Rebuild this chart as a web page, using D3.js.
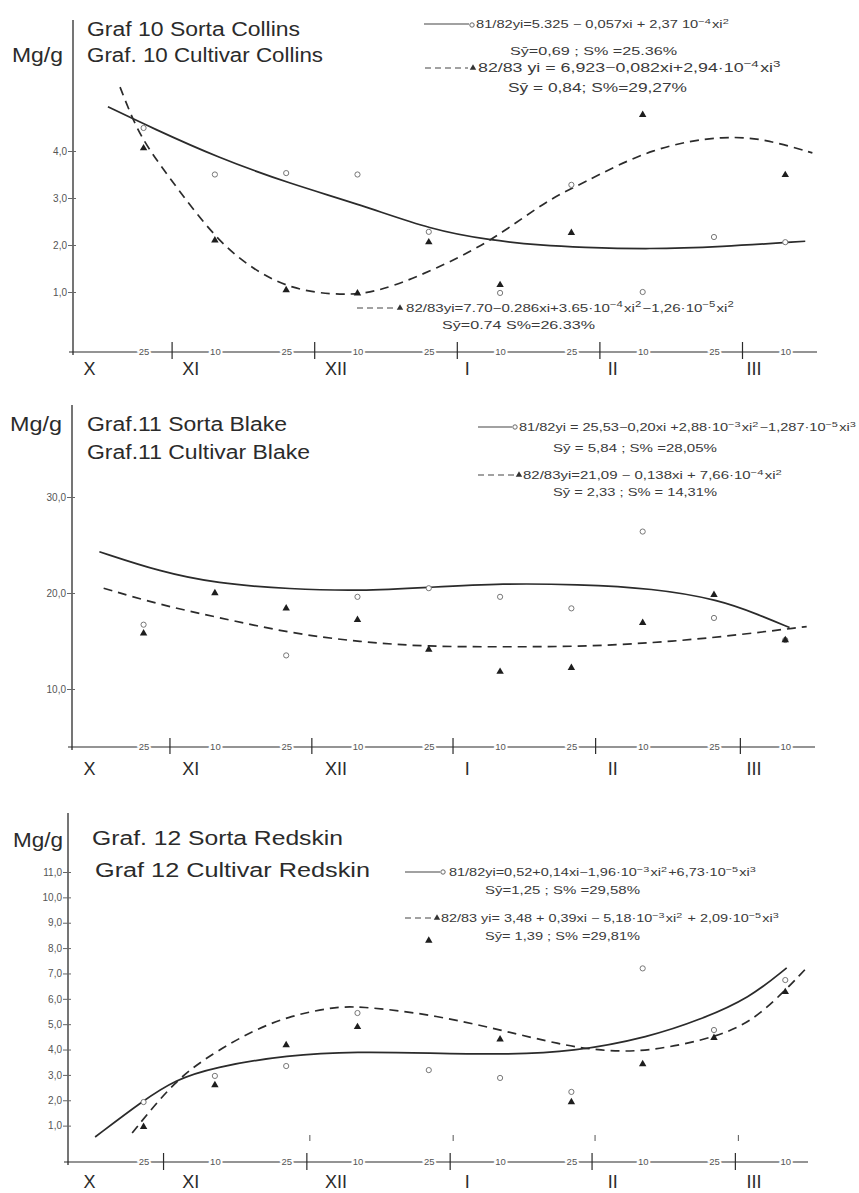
<!DOCTYPE html>
<html><head><meta charset="utf-8">
<script src="https://cdn.jsdelivr.net/npm/d3@7"></script>
<style>body{margin:0;background:#fff} svg{display:block}</style>
</head><body><svg id="c" width="859" height="1193"></svg>
<script>
// ---------- DATA ----------
// x positions are in "month units": 0 = 1 X, 1 = 1 XI, ... (25th = +0.8, 10th = +0.3)
const sampleDates = [0.8, 1.3, 1.8, 2.3, 2.8, 3.3, 3.8, 4.3, 4.8, 5.3];
const dateTickLabels = ["25","10","25","10","25","10","25","10","25","10"];
const monthNames = ["X","XI","XII","I","II","III"];
const monthNamePos = [0.42, 1.13, 2.15, 3.07, 4.09, 5.08];

// Graf 10 – Collins
const collinsTicks = [1, 2, 3, 4];
const collins8182 = [4.49, 3.5, 3.53, 3.5, 2.28, 0.98, 3.28, 1.0, 2.17, 2.06];
const collins8283 = [4.06, 2.1, 1.04, 0.97, 2.06, 1.15, 2.26, 4.77, null, 3.49];
const collinsSolid = [[0.55,4.94],[0.86,4.49],[1.32,3.86],[1.83,3.30],[2.33,2.85],[2.82,2.32],[3.23,2.10],[3.6,1.99],[3.86,1.95],[4.35,1.91],[4.84,1.96],[5.44,2.08]];
const collinsDashed = [[0.635,5.36],[0.73,4.62],[0.83,4.06],[1.03,3.23],[1.315,2.10],[1.57,1.47],[1.84,1.06],[2.13,0.94],[2.35,0.96],[2.55,1.12],[2.84,1.48],[3.23,2.06],[3.63,2.96],[3.86,3.28],[4.37,4.09],[4.89,4.34],[5.19,4.23],[5.49,3.96]];

// Graf 11 – Blake
const blakeTicks = [10, 20, 30];
const blake8182 = [16.7, null, 13.5, 19.6, 20.5, 19.6, 18.4, 26.4, 17.4, 15.1];
const blake8283 = [15.8, 20.0, 18.4, 17.2, 14.1, 11.8, 12.2, 16.9, 19.8, 15.1];
const blakeSolid = [[0.49,24.3],[0.92,22.2],[1.31,21.0],[1.83,20.4],[2.32,20.2],[2.81,20.6],[3.32,21.0],[3.84,20.9],[4.37,20.5],[4.84,19.3],[5.12,17.7],[5.33,16.4]];
const blakeDashed = [[0.52,20.5],[0.92,18.75],[1.31,17.5],[1.83,15.8],[2.32,14.9],[2.79,14.4],[3.32,14.4],[3.84,14.4],[4.37,14.8],[4.84,15.4],[5.45,16.5]];

// Graf 12 – Redskin
const redskinTicks = [1,2,3,4,5,6,7,8,9,10,11];
const redskin8182 = [1.93, 2.96, 3.35, 5.44, 3.19, 2.88, 2.33, 7.2, 4.77, 6.74];
const redskin8283 = [0.95, 2.6, 4.18, 4.89, 8.3, 4.4, 1.93, 3.43, 4.46, 6.27];
const redskinSolid = [[0.46,0.55],[0.80,2.0],[1.02,2.8],[1.29,3.3],[1.81,3.79],[2.30,3.92],[2.81,3.86],[3.32,3.8],[3.81,3.9],[4.35,4.5],[4.70,5.17],[5.05,6.03],[5.31,7.22]];
const redskinDashed = [[0.72,0.71],[1.02,2.8],[1.29,3.86],[1.55,4.7],[1.81,5.3],[2.11,5.66],[2.30,5.72],[2.81,5.4],[3.32,4.75],[3.72,4.2],[4.0,3.95],[4.33,3.9],[4.84,4.5],[5.12,5.28],[5.45,7.22]];

// text
const titles10 = ["Graf 10 Sorta Collins", "Graf. 10 Cultivar Collins"];
const titles11 = ["Graf.11 Sorta Blake", "Graf.11 Cultivar Blake"];
const titles12 = ["Graf. 12 Sorta Redskin", "Graf 12 Cultivar Redskin"];
const eq10 = ["81/82yi=5.325 − 0,057xi + 2,37 10^{−4}xi^{2}", "Sȳ=0,69 ; S% =25.36%",
              "82/83 yi = 6,923−0,082xi+2,94·10^{−4}xi^{3}", "Sȳ = 0,84; S%=29,27%",
              "82/83yi=7.70−0.286xi+3.65·10^{−4}xi^{2}−1,26·10^{−5}xi^{2}", "Sȳ=0.74    S%=26.33%"];
const eq11 = ["81/82yi = 25,53−0,20xi +2,88·10^{−3}xi^{2}−1,287·10^{−5}xi^{3}", "Sȳ = 5,84 ; S% =28,05%",
              "82/83yi=21,09 − 0,138xi + 7,66·10^{−4}xi^{2}", "Sȳ = 2,33 ; S% = 14,31%"];
const eq12 = ["81/82yi=0,52+0,14xi−1,96·10^{−3}xi^{2}+6,73·10^{−5}xi^{3}", "Sȳ=1,25 ; S% =29,58%",
              "82/83 yi= 3,48 + 0,39xi − 5,18·10^{−3}xi^{2} + 2,09·10^{−5}xi^{3}", "Sȳ= 1,39 ; S% =29,81%"];

// ---------- LAYOUT ----------
const FONT = "'Liberation Sans', Arial, Helvetica, sans-serif";
const INK = "#2b2b2b";
const svg = d3.select("#c");
const x = d3.scaleLinear().domain([0, 5]).range([29.5, 742.5]);

const panels = [
  { ticks: collinsTicks, c: collins8182, t: collins8283, solid: collinsSolid, dashed: collinsDashed,
    yDomain: [0, 4], yRange: [339, 151], axisX: 73, axisTop: 20, axisY: 352, axisRight: 817,
    seps: [1, 2, 3, 4, 5], sepUp: 10, sepDown: 7, upperMarks: false, monthY: 375,
    mg: {x: 12, y: 62, w: 51}, titles: titles10,
    titlePos: [{x: 87, y: 36, w: 213}, {x: 87, y: 62, w: 236}],
    eqs: eq10,
    eqPos: [{x: 476, y: 28, w: 254, s: 10.5}, {x: 510, y: 55, w: 167, s: 10.5},
            {x: 478, y: 72, w: 304, s: 12.5}, {x: 508, y: 92, w: 179, s: 13},
            {x: 406, y: 312, w: 329, s: 11}, {x: 442, y: 329, w: 153, s: 11}],
    keys: [{dash: false, x1: 424, x2: 469, y: 24, mx: 472, my: 25, m: "c"},
           {dash: true, x1: 425, x2: 468, y: 68, mx: 473, my: 68, m: "t"},
           {dash: true, x1: 357, x2: 396, y: 308, mx: 400, my: 308, m: "t"}] },
  { ticks: blakeTicks, c: blake8182, t: blake8283, solid: blakeSolid, dashed: blakeDashed,
    yDomain: [0, 30], yRange: [785, 497], axisX: 72, axisTop: 405, axisY: 747, axisRight: 815,
    seps: [0.985, 1.98, 2.97, 3.97, 4.985], sepUp: 9, sepDown: 7, upperMarks: false, monthY: 775,
    mg: {x: 10, y: 431, w: 52}, titles: titles11,
    titlePos: [{x: 87, y: 431, w: 200}, {x: 87, y: 459, w: 223}],
    eqs: eq11,
    eqPos: [{x: 519, y: 431, w: 338, s: 10.5}, {x: 553, y: 452, w: 164, s: 10.5},
            {x: 523, y: 479, w: 260, s: 10.5}, {x: 553, y: 496, w: 164, s: 10.5}],
    keys: [{dash: false, x1: 478, x2: 512, y: 427, mx: 515, my: 427, m: "c"},
           {dash: true, x1: 478, x2: 515, y: 475, mx: 519, my: 475, m: "t"}] },
  { ticks: redskinTicks, c: redskin8182, t: redskin8283, solid: redskinSolid, dashed: redskinDashed,
    yDomain: [0, 11], yRange: [1151, 872], axisX: 68, axisTop: 813, axisY: 1162, axisRight: 808,
    seps: [0.94, 1.945, 2.95, 3.945, 4.95], sepUp: 9, sepDown: 8, upperMarks: true, monthY: 1188,
    mg: {x: 13, y: 847, w: 50}, titles: titles12,
    titlePos: [{x: 92, y: 845, w: 251}, {x: 95, y: 877, w: 275}],
    eqs: eq12,
    eqPos: [{x: 449, y: 876, w: 308, s: 10.5}, {x: 485, y: 894, w: 155, s: 10.5},
            {x: 441, y: 922, w: 339, s: 10.5}, {x: 485, y: 940, w: 155, s: 10.5}],
    keys: [{dash: false, x1: 405, x2: 440, y: 872, mx: 443, my: 872, m: "c"},
           {dash: true, x1: 405, x2: 434, y: 918, mx: 437, my: 918, m: "t"}] }
];

function richText(sel, str, size) {
  const parts = str.split(/\^\{([^}]*)\}/);
  const shift = Math.round(size * 0.42 * 10) / 10;
  parts.forEach((p, i) => {
    if (p === "") return;
    if (i % 2 === 1) {
      sel.append("tspan").attr("dy", -shift).attr("font-size", size * 0.75).text(p);
      sel.append("tspan").attr("dy", shift).attr("font-size", size).text("\u200A");
    } else {
      sel.append("tspan").attr("font-size", size).text(p);
    }
  });
}
const triSym = d3.symbol().type(d3.symbolTriangle).size(24);

panels.forEach(P => {
  const g = svg.append("g");
  const y = d3.scaleLinear().domain(P.yDomain).range(P.yRange);

  // y axis line
  g.append("line").attr("x1", P.axisX).attr("x2", P.axisX).attr("y1", P.axisTop).attr("y2", P.axisY + 3)
    .attr("stroke", INK).attr("stroke-width", 1.3);
  // y ticks via d3 axis
  const ya = g.append("g").attr("transform", `translate(${P.axisX},0)`)
    .call(d3.axisLeft(y).tickValues(P.ticks).tickSize(5).tickPadding(1)
      .tickFormat(d => d3.format(".1f")(d).replace(".", ",")));
  ya.select(".domain").remove();
  ya.selectAll(".tick line").attr("x1", 3).attr("stroke", "#666");
  ya.selectAll(".tick text").attr("font-family", FONT).attr("font-size", 10).attr("fill", "#555");

  // x axis line
  g.append("line").attr("x1", P.axisX - 4).attr("x2", P.axisRight).attr("y1", P.axisY).attr("y2", P.axisY)
    .attr("stroke", INK).attr("stroke-width", 1.1);
  // month separators
  g.selectAll(".sep").data(P.seps).join("line")
    .attr("x1", d => x(d)).attr("x2", d => x(d))
    .attr("y1", P.axisY - P.sepUp).attr("y2", P.axisY + P.sepDown)
    .attr("stroke", INK).attr("stroke-width", 1.2);
  if (P.upperMarks) {
    g.selectAll(".um").data(P.seps.slice(1)).join("line")
      .attr("x1", d => x(d) + 3).attr("x2", d => x(d) + 3)
      .attr("y1", P.axisY - 27).attr("y2", P.axisY - 21)
      .attr("stroke", "#555").attr("stroke-width", 1);
  }
  // date ticks via d3 axis
  const xa = g.append("g").attr("transform", `translate(0,${P.axisY})`)
    .call(d3.axisBottom(x).tickValues(sampleDates).tickSize(0)
      .tickFormat((d, i) => dateTickLabels[i]));
  xa.select(".domain").remove();
  xa.selectAll(".tick text").attr("y", 0).attr("dy", "0.35em")
    .attr("font-family", FONT).attr("font-size", 9.5).attr("fill", "#555")
    .attr("stroke", "#fff").attr("stroke-width", 4).attr("paint-order", "stroke");
  // month names
  g.selectAll(".mn").data(monthNames).join("text")
    .attr("x", (d, i) => x(monthNamePos[i])).attr("y", P.monthY)
    .attr("text-anchor", "middle").attr("font-family", FONT).attr("font-size", 18)
    .attr("fill", INK).text(d => d);

  // curves
  const line = d3.line().x(d => x(d[0])).y(d => y(d[1])).curve(d3.curveBasis);
  g.append("path").attr("d", line(P.solid)).attr("fill", "none")
    .attr("stroke", INK).attr("stroke-width", 1.7);
  g.append("path").attr("d", line(P.dashed)).attr("fill", "none")
    .attr("stroke", INK).attr("stroke-width", 1.7).attr("stroke-dasharray", "9,6");

  // markers
  g.selectAll(".cm").data(sampleDates.map((d, i) => [d, P.c[i]]).filter(d => d[1] != null)).join("circle")
    .attr("cx", d => x(d[0])).attr("cy", d => y(d[1])).attr("r", 2.6)
    .attr("fill", "#fff").attr("stroke", "#777").attr("stroke-width", 1);
  g.selectAll(".tm").data(sampleDates.map((d, i) => [d, P.t[i]]).filter(d => d[1] != null)).join("path")
    .attr("d", triSym).attr("transform", d => `translate(${x(d[0])},${y(d[1])})`)
    .attr("fill", "#1e1e1e");

  // titles
  g.append("text").attr("x", P.mg.x).attr("y", P.mg.y).attr("textLength", P.mg.w)
    .attr("lengthAdjust", "spacingAndGlyphs").attr("font-family", FONT).attr("font-size", 20)
    .attr("fill", INK).text("Mg/g");
  P.titles.forEach((t, i) => {
    const p = P.titlePos[i];
    g.append("text").attr("x", p.x).attr("y", p.y).attr("textLength", p.w)
      .attr("lengthAdjust", "spacingAndGlyphs").attr("font-family", FONT).attr("font-size", 20)
      .attr("fill", INK).text(t);
  });

  // equation keys
  P.keys.forEach(k => {
    g.append("line").attr("x1", k.x1).attr("x2", k.x2).attr("y1", k.y).attr("y2", k.y)
      .attr("stroke", "#444").attr("stroke-width", 1.2)
      .attr("stroke-dasharray", k.dash ? "6,4" : null);
    if (k.m === "c") {
      g.append("circle").attr("cx", k.mx).attr("cy", k.my).attr("r", 2.2)
        .attr("fill", "#fff").attr("stroke", "#666");
    } else {
      g.append("path").attr("d", d3.symbol().type(d3.symbolTriangle).size(18))
        .attr("transform", `translate(${k.mx},${k.my})`).attr("fill", "#333");
    }
  });
  P.eqs.forEach((t, i) => {
    const p = P.eqPos[i];
    const te = g.append("text").attr("x", p.x).attr("y", p.y).attr("font-family", FONT)
      .attr("font-size", p.s).attr("fill", "#3a3a3a")
      .attr("textLength", p.w).attr("lengthAdjust", "spacingAndGlyphs");
    richText(te, t, p.s);
  });
});
</script>
</body></html>
